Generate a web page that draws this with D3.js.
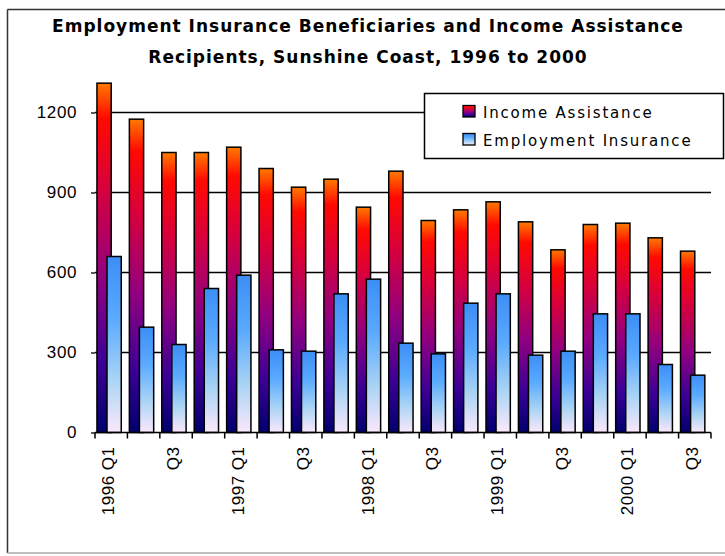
<!DOCTYPE html>
<html>
<head>
<meta charset="utf-8">
<script src="https://cdn.jsdelivr.net/npm/d3@7"></script>
<style>
    body { margin: 0; background: #fff; }
    svg { display: block; }
</style>
</head>
<body>
<svg id="chart"></svg>
<script>
const quarters = ['1996 Q1', '1996 Q2', '1996 Q3', '1996 Q4',
    '1997 Q1', '1997 Q2', '1997 Q3', '1997 Q4',
    '1998 Q1', '1998 Q2', '1998 Q3', '1998 Q4',
    '1999 Q1', '1999 Q2', '1999 Q3', '1999 Q4',
    '2000 Q1', '2000 Q2', '2000 Q3'];

const incomeAssistance = [1310, 1175, 1050, 1050, 1070, 990, 920, 950, 845, 980,
    795, 835, 865, 790, 685, 780, 785, 730, 680];
const employmentInsurance = [660, 395, 330, 540, 590, 310, 305, 520, 575, 335,
    295, 485, 520, 290, 305, 445, 445, 255, 215];

const yTicks = [0, 300, 600, 900, 1200];
const titleLines = ['Employment Insurance Beneficiaries and Income Assistance',
    'Recipients, Sunshine Coast, 1996 to 2000'];
const seriesNames = ['Income Assistance', 'Employment Insurance'];

const w = 725, h = 556;
const margin = { left: 95, right: 14, top: 112.5, bottom: 123.5 };

const xScale = d3.scaleBand()
    .domain(quarters)
    .range([margin.left, w - margin.right])
    .paddingInner(0)
    .paddingOuter(0);

const yScale = d3.scaleLinear()
    .domain([0, 1200])
    .range([h - margin.bottom, margin.top]);

const chart = d3.select('#chart')
    .attr('width', w)
    .attr('height', h);

const defs = chart.append('defs');

const makeGradient = (id, stops) => {
    const g = defs.append('linearGradient')
        .attr('id', id)
        .attr('x1', 0).attr('y1', 0)
        .attr('x2', 0).attr('y2', 1);
    stops.forEach(s => {
        g.append('stop').attr('offset', s[0]).attr('stop-color', s[1]);
    });
}

makeGradient('iaGrad', [[0, '#ff7a00'], [0.1, '#ff0a00'], [0.3, '#d8003c'],
    [0.55, '#93007f'], [0.8, '#3c0096'], [1, '#00006e']]);
makeGradient('eiGrad', [[0, '#3c8ef6'], [0.35, '#5aaaff'], [0.7, '#aad4f4'], [1, '#fbe8fb']]);

// frame
chart.append('line').attr('x1', 7.5).attr('y1', 9.5).attr('x2', w).attr('y2', 9.5)
    .style('stroke', '#333').style('stroke-width', 1.5);
chart.append('line').attr('x1', 7.5).attr('y1', 9.5).attr('x2', 7.5).attr('y2', 553)
    .style('stroke', '#333').style('stroke-width', 1.5);
chart.append('line').attr('x1', 7.5).attr('y1', 553).attr('x2', w).attr('y2', 553)
    .style('stroke', '#aaa').style('stroke-width', 1.5);

// title
chart.append('g')
    .selectAll('text')
    .data(titleLines)
    .join('text')
    .attr('x', 368)
    .attr('y', (d, i) => 32 + i * 31)
    .attr('text-anchor', 'middle')
    .attr('font-family', 'DejaVu Sans, sans-serif')
    .attr('font-weight', 'bold')
    .attr('font-size', '17px')
    .attr('letter-spacing', '1px')
    .text(d => d);

// gridlines
chart.append('g')
    .selectAll('line')
    .data(yTicks.filter(d => d > 0))
    .join('line')
    .attr('x1', margin.left)
    .attr('x2', w - margin.right)
    .attr('y1', d => yScale(d))
    .attr('y2', d => yScale(d))
    .style('stroke', '#000')
    .style('stroke-width', 1.3);

// y axis
const yAxis = chart.append('g')
    .attr('transform', `translate(${margin.left},0)`)
    .call(d3.axisLeft(yScale).tickValues(yTicks).tickFormat(d3.format('d'))
        .tickSize(4).tickPadding(14));
yAxis.select('.domain').remove();
yAxis.selectAll('line').style('stroke', '#000').style('stroke-width', 1.3);
yAxis.selectAll('text')
    .attr('font-family', 'Liberation Sans, Arial, sans-serif')
    .attr('font-size', '17px')
    .attr('letter-spacing', '0.6px')
    .style('fill', '#000');

// bars
const bw = xScale.bandwidth();
const bars = chart.append('g');

bars.selectAll('rect.ia')
    .data(incomeAssistance)
    .join('rect')
    .attr('class', 'ia')
    .attr('x', (d, i) => xScale(quarters[i]) + bw * 0.06)
    .attr('width', bw * 0.44)
    .attr('y', d => yScale(d))
    .attr('height', d => yScale(0) - yScale(d))
    .style('fill', 'url(#iaGrad)')
    .style('stroke', '#000')
    .style('stroke-width', 1.5);

bars.selectAll('rect.ei')
    .data(employmentInsurance)
    .join('rect')
    .attr('class', 'ei')
    .attr('x', (d, i) => xScale(quarters[i]) + bw * 0.37)
    .attr('width', bw * 0.44)
    .attr('y', d => yScale(d))
    .attr('height', d => yScale(0) - yScale(d))
    .style('fill', 'url(#eiGrad)')
    .style('stroke', '#000')
    .style('stroke-width', 1.5);

// x axis
const tickPos = quarters.map(q => xScale(q)).concat([w - margin.right]);
const xAxis = chart.append('g');
xAxis.append('line')
    .attr('x1', margin.left).attr('x2', w - margin.right)
    .attr('y1', yScale(0)).attr('y2', yScale(0))
    .style('stroke', '#000').style('stroke-width', 1.5);
xAxis.selectAll('line.tick')
    .data(tickPos)
    .join('line')
    .attr('class', 'tick')
    .attr('x1', d => d).attr('x2', d => d)
    .attr('y1', yScale(0)).attr('y2', yScale(0) + 6)
    .style('stroke', '#000').style('stroke-width', 1.5);

const xLabel = q => {
    const [yr, qt] = q.split(' ');
    if (qt === 'Q1') return q;
    if (qt === 'Q3') return qt;
    return '';
}

xAxis.selectAll('text')
    .data(quarters.filter(q => xLabel(q) !== ''))
    .join('text')
    .attr('transform', q => `translate(${xScale(q) + bw / 2 - 3},${yScale(0) + 14}) rotate(-90)`)
    .attr('text-anchor', 'end')
    .attr('dy', '0.35em')
    .attr('font-family', 'Liberation Sans, Arial, sans-serif')
    .attr('font-size', '17px')
    .attr('letter-spacing', '0.5px')
    .text(q => xLabel(q));

// legend
const legend = chart.append('g');
legend.append('rect')
    .attr('x', 424.5)
    .attr('y', 93.5)
    .attr('width', 299)
    .attr('height', 65)
    .style('fill', '#fff')
    .style('stroke', '#000')
    .style('stroke-width', 1.5);

const legendRows = legend.selectAll('g.row')
    .data(seriesNames)
    .join('g')
    .attr('class', 'row')
    .attr('transform', (d, i) => `translate(463,${105.5 + i * 28})`);

legendRows.append('rect')
    .attr('width', 12)
    .attr('height', 11.5)
    .style('fill', (d, i) => i === 0 ? 'url(#iaGrad)' : 'url(#eiGrad)')
    .style('stroke', '#000')
    .style('stroke-width', 1.3);

legendRows.append('text')
    .attr('x', 20)
    .attr('y', 12)
    .attr('font-family', 'DejaVu Sans, sans-serif')
    .attr('font-size', '15px')
    .attr('letter-spacing', '1.8px')
    .text(d => d);
</script>
</body>
</html>
